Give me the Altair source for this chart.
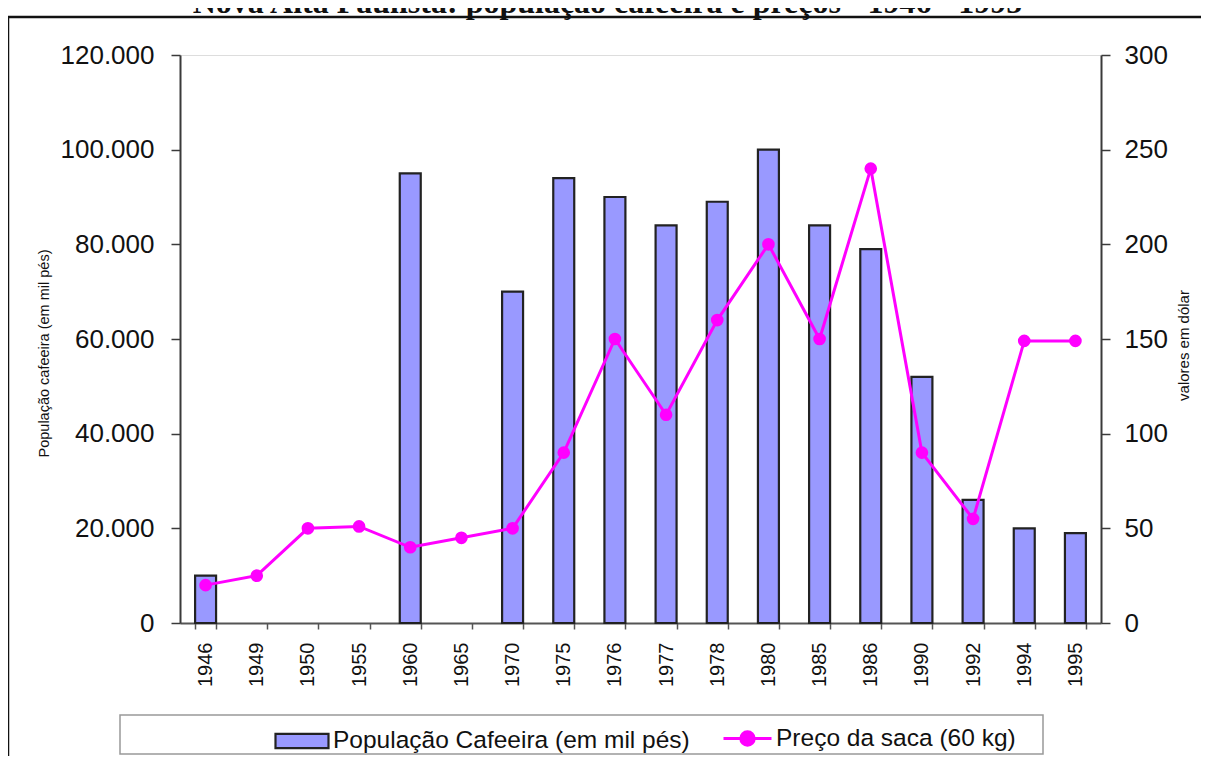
import altair as alt
import pandas as pd

years = ["1946", "1949", "1950", "1955", "1960", "1965", "1970", "1975", "1976",
         "1977", "1978", "1980", "1985", "1986", "1990", "1992", "1994", "1995"]
populacao = [10000, None, None, None, 95000, None, 70000, 94000, 90000,
             84000, 89000, 100000, 84000, 79000, 52000, 26000, 20000, 19000]
preco = [20, 25, 50, 51, 40, 45, 50, 90, 150, 110, 160, 200, 150, 240, 90, 55, 149, 149]

S_BAR = "População Cafeeira (em mil pés)"
S_LINE = "Preço da saca (60 kg)"

df = pd.DataFrame({"ano": years, "pop": populacao, "preco": preco})
df["sb"] = S_BAR
df["sl"] = S_LINE

FONT = "Liberation Sans"
W, H = 921, 568

x = alt.X("ano:N", sort=years, title=None,
          scale=alt.Scale(paddingInner=0.59, paddingOuter=0.295),
          axis=alt.Axis(labelAngle=270, labelFontSize=20, labelFont=FONT,
                        labelColor="#111", labelPadding=13, tickSize=6,
                        tickBand="extent", domainColor="#555", tickColor="#555",
                        domainWidth=2, tickWidth=1.5))

base = alt.Chart(df)

bars = base.mark_bar(stroke="#222", strokeWidth=2.2).encode(
    x=x,
    y=alt.Y("pop:Q",
            scale=alt.Scale(domain=[0, 120000], nice=False),
            axis=alt.Axis(values=[0, 20000, 40000, 60000, 80000, 100000, 120000],
                          labelExpr="replace(format(datum.value, ','), ',', '.')",
                          labelFontSize=26, labelFont=FONT, labelColor="#111",
                          labelPadding=17, tickSize=9, grid=False,
                          domainColor="#3a3a3a", tickColor="#3a3a3a",
                          domainWidth=2, tickWidth=1.5,
                          title="População cafeeira (em mil pés)",
                          titleFont=FONT, titleFontSize=14.5, titleFontWeight="normal",
                          titleAngle=270, titleX=-136, titleY=298,
                          titleAlign="center", titleBaseline="middle",
                          titleColor="#111")),
    fill=alt.Fill("sb:N", scale=alt.Scale(domain=[S_BAR], range=["#9999FF"]),
                  legend=alt.Legend(title=None, orient="none", legendX=94, legendY=658,
                                    symbolType="M-1,-0.27L1,-0.27L1,0.27L-1,0.27Z",
                                    symbolSize=2809, symbolStrokeColor="#222",
                                    symbolStrokeWidth=2.2, labelFontSize=24.5,
                                    labelFont=FONT, labelColor="#111",
                                    labelOffset=3, padding=0, labelLimit=500)),
)

yright = alt.Y("preco:Q",
               scale=alt.Scale(domain=[0, 300], nice=False),
               axis=alt.Axis(orient="right", values=[0, 50, 100, 150, 200, 250, 300],
                             labelFontSize=26, labelFont=FONT, labelColor="#111",
                             labelPadding=14, tickSize=9, grid=False,
                             domainColor="#3a3a3a", tickColor="#3a3a3a",
                             domainWidth=2, tickWidth=1.5,
                             title="valores em dólar", titleFont=FONT,
                             titleFontSize=15, titleFontWeight="normal",
                             titleAngle=270, titleX=82, titleY=290,
                             titleAlign="center", titleBaseline="middle",
                             titleColor="#111"))

line = base.mark_line(strokeWidth=3).encode(
    x=x,
    y=yright,
    stroke=alt.Stroke("sl:N", scale=alt.Scale(domain=[S_LINE], range=["#FF00FF"]),
                      legend=alt.Legend(title=None, orient="none", legendX=542, legendY=658,
                                        symbolType="M-1,0L1,0M-0.28,0A0.28,0.28,0,1,0,0.28,0A0.28,0.28,0,1,0,-0.28,0Z",
                                        symbolSize=2304, symbolFillColor="#FF00FF",
                                        symbolStrokeWidth=3, labelFontSize=24.5,
                                        labelFont=FONT, labelColor="#111",
                                        labelOffset=3, padding=0, labelLimit=500)),
)

points = base.mark_point(filled=True, size=160, opacity=1, color="#FF00FF").encode(
    x=x,
    y=yright,
)

frame = alt.Chart(alt.Data(values=[{}])).mark_rect(
    fill="white", fillOpacity=0, stroke="#111", strokeWidth=2.5
).encode(x=alt.value(-172), x2=alt.value(1060), y=alt.value(-38), y2=alt.value(730))

legbox = alt.Chart(alt.Data(values=[{}])).mark_rect(
    fill="white", fillOpacity=0, stroke="#999", strokeWidth=1.5
).encode(x=alt.value(-60), x2=alt.value(863), y=alt.value(660), y2=alt.value(699))

right_layer = alt.layer(line, points)

chart = alt.layer(frame, legbox, bars, right_layer).resolve_scale(
    y="independent", fill="independent", stroke="independent"
).properties(
    width=W, height=H,
    autosize=alt.AutoSizeParams(type="none"),
    padding={"left": 172, "top": 47, "right": 100, "bottom": 133},
    title=alt.TitleParams(
        "Nova Alta Paulista: população cafeeira e preços - 1946 - 1995",
        font="Liberation Serif", fontSize=32, fontWeight="bold", color="#111",
        anchor="middle", dx=-33, offset=0, dy=29, baseline="alphabetic"),
).configure_view(stroke="#8c8c8c", strokeWidth=2).configure(background="white")

chart.save("out.html", embed_options={"renderer": "svg", "actions": False})
